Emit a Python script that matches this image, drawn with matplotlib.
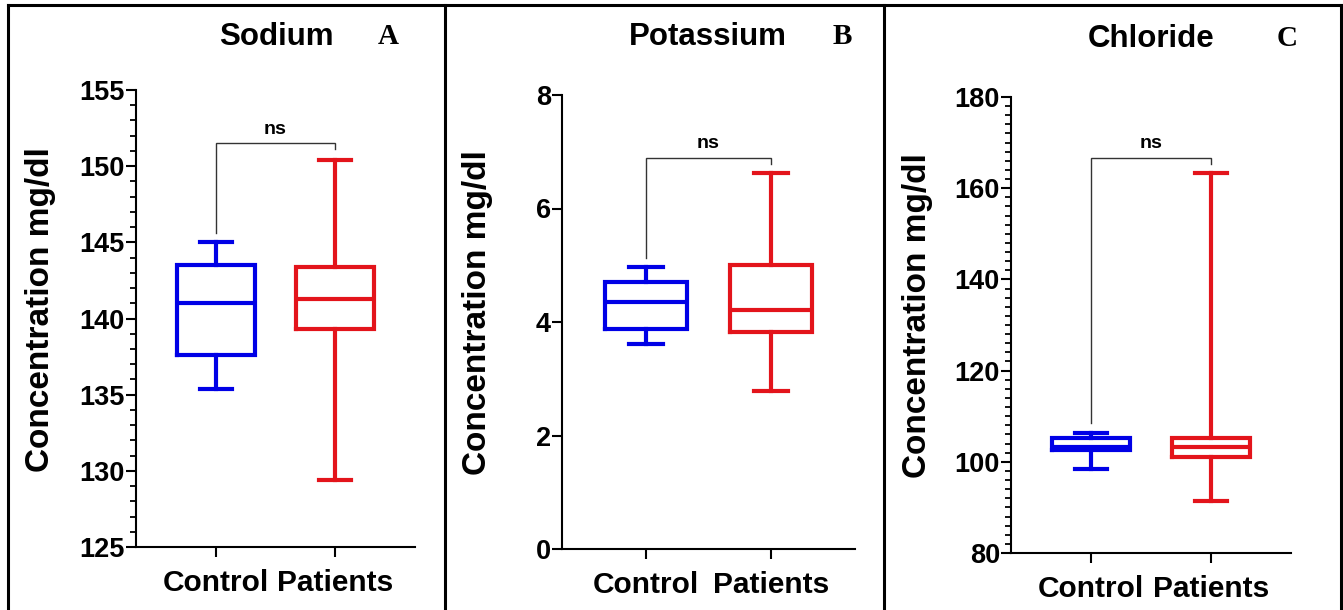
import matplotlib
matplotlib.use("Agg")
import matplotlib.pyplot as plt
from matplotlib.ticker import MultipleLocator
from matplotlib.lines import Line2D

plt.rcParams['font.family'] = ['Liberation Sans', 'DejaVu Sans']
plt.rcParams['font.weight'] = 'bold'

# ---------------- data (min, q1, median, q3, max) ----------------
categories = ["Control", "Patients"]
panel_titles = ["Sodium", "Potassium", "Chloride"]
panel_letters = ["A", "B", "C"]
y_label = "Concentration mg/dl"
sig_label = "ns"

sodium_control = [135.4, 137.6, 141.0, 143.5, 145.0]
sodium_patients = [129.4, 139.3, 141.3, 143.4, 150.4]
potassium_control = [3.61, 3.87, 4.36, 4.71, 4.97]
potassium_patients = [2.79, 3.83, 4.22, 5.00, 6.62]
chloride_control = [98.4, 102.6, 103.2, 105.3, 106.3]
chloride_patients = [91.3, 101.1, 103.3, 105.2, 163.3]

# bracket: (top y, left leg bottom, right leg bottom)
sodium_bracket = [151.5, 145.6, 151.1]
potassium_bracket = [6.89, 5.12, 6.78]
chloride_bracket = [166.7, 108.4, 165.2]

sodium_ticks = [125, 130, 135, 140, 145, 150, 155]
potassium_ticks = [0, 2, 4, 6, 8]
chloride_ticks = [80, 100, 120, 140, 160, 180]

# ---------------- layout ----------------
W, H = 1343, 610
fig = plt.figure(figsize=(W / 100, H / 100), dpi=100)

def fx(px):
    return px / W

def fy(py):
    return 1 - py / H

panels = [
    dict(ctrl=sodium_control, pat=sodium_patients, br=sodium_bracket, ticks=sodium_ticks,
         minor=1, rect=(136, 90, 415, 547), title_x=276, letter_x=388, title_y=37, ylab_x=-0.285),
    dict(ctrl=potassium_control, pat=potassium_patients, br=potassium_bracket, ticks=potassium_ticks,
         minor=None, rect=(562, 95, 855, 549), title_x=708, letter_x=842, title_y=37, ylab_x=-0.235),
    dict(ctrl=chloride_control, pat=chloride_patients, br=chloride_bracket, ticks=chloride_ticks,
         minor=2, rect=(1011, 97, 1291, 553), title_x=1151, letter_x=1287, title_y=39, ylab_x=-0.28),
]

colors = ['#0000E6', '#E3141B']
LW = 3.0

for i, p in enumerate(panels):
    x0, y0, x1, y1 = p['rect']
    ax = fig.add_axes([fx(x0), fy(y1), fx(x1 - x0), (y1 - y0) / H])
    stats = []
    for vals, lab in zip([p['ctrl'], p['pat']], categories):
        stats.append(dict(whislo=vals[0], q1=vals[1], med=vals[2], q3=vals[3],
                          whishi=vals[4], label=lab))
    art = ax.bxp(stats, positions=[1, 2], widths=0.65, capwidths=0.27,
                 showfliers=False, patch_artist=False)
    for k, c in enumerate(colors):
        art['boxes'][k].set(color=c, linewidth=LW, solid_joinstyle='miter')
        art['medians'][k].set(color=c, linewidth=LW)
        for w in art['whiskers'][2 * k:2 * k + 2]:
            w.set(color=c, linewidth=LW)
        for cp in art['caps'][2 * k:2 * k + 2]:
            cp.set(color=c, linewidth=LW)

    top, lleg, rleg = p['br']
    ax.plot([1, 1, 2, 2], [lleg, top, top, rleg], color='#333333', linewidth=1.0,
            solid_joinstyle='miter')
    ax.annotate(sig_label, xy=(1.5, top), xytext=(0, 4), textcoords='offset points',
                ha='center', va='bottom', fontsize=14, fontweight='bold')

    ticks = p['ticks']
    ax.set_ylim(ticks[0], ticks[-1])
    ax.set_xlim(0.33, 2.67)
    ax.set_yticks(ticks)
    ax.set_yticklabels([str(t) for t in ticks])
    if p['minor']:
        ax.yaxis.set_minor_locator(MultipleLocator(p['minor']))
    ax.set_xticks([1, 2])
    ax.set_xticklabels(categories)
    for s in ['top', 'right']:
        ax.spines[s].set_visible(False)
    for s in ['left', 'bottom']:
        ax.spines[s].set_linewidth(1.5)
    ax.tick_params(axis='y', which='major', length=7, width=1.5, labelsize=19.5, pad=1)
    ax.tick_params(axis='y', which='minor', length=4.5, width=1.3)
    ax.tick_params(axis='x', which='major', length=7, width=1.5, labelsize=21.5, pad=9)
    for lbl in ax.get_xticklabels() + ax.get_yticklabels():
        lbl.set_fontweight('bold')
    ax.set_ylabel(y_label, fontsize=24, fontweight='bold')
    ax.yaxis.set_label_coords(p['ylab_x'], 0.52)

    fig.text(fx(p['title_x']), fy(p['title_y']), panel_titles[i], ha='center', va='center',
             fontsize=22.5, fontweight='bold')
    fig.text(fx(p['letter_x']), fy(p['title_y']), panel_letters[i], ha='center', va='center',
             fontsize=21, fontweight='bold', family=['Liberation Serif', 'DejaVu Serif'])

# panel frame lines
frame_lw = 2.2
for xs, ys in [([8, 1341], [5, 5]), ([8, 8], [5, 610]), ([445, 445], [5, 610]),
               ([884, 884], [5, 610]), ([1341, 1341], [5, 610])]:
    fig.add_artist(Line2D([fx(v) for v in xs], [fy(v) for v in ys], color='black',
                          linewidth=frame_lw, transform=fig.transFigure))

fig.savefig("out.png", dpi=100, facecolor='white')
